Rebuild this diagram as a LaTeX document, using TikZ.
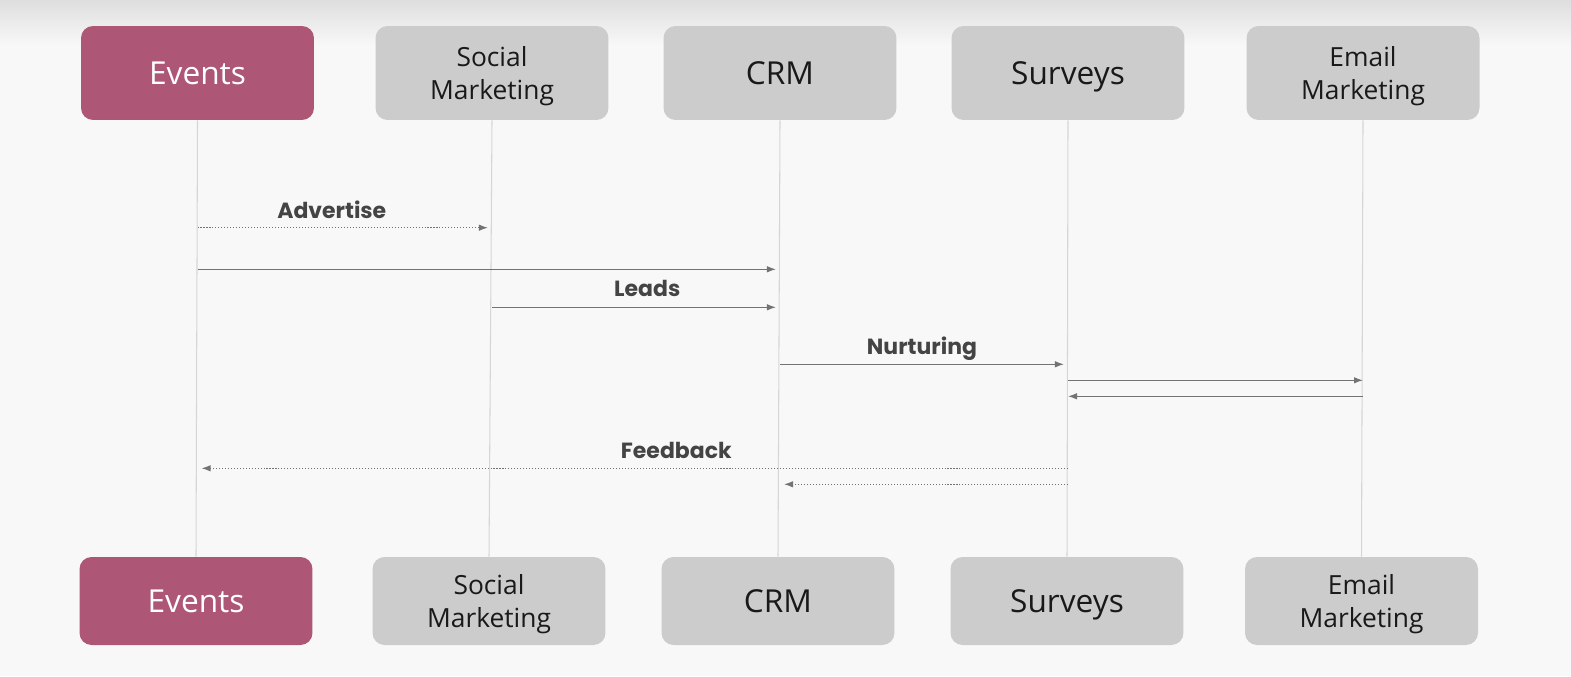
\documentclass[tikz,border=0pt]{standalone}
\usepackage{fontspec}
\setmainfont{Open Sans}
\newfontfamily\lblfont{Poppins}
\usetikzlibrary{arrows.meta, positioning}
\definecolor{cRose}{RGB}{173,86,117}
\definecolor{cBox}{RGB}{204,204,204}
\definecolor{cBack}{RGB}{248,248,248}
\definecolor{cTop}{RGB}{222,222,222}
\definecolor{cLife}{RGB}{214,214,214}
\definecolor{cMsg}{RGB}{115,115,115}
\definecolor{cLabel}{RGB}{68,68,68}
\tikzset{
	actor/.style   ={rectangle, rounded corners=0.24cm, minimum width=4.66cm, minimum height=1.88cm, align=center, text depth=0pt, fill=cBox, text=black!90, font=\fontsize{15}{19}\selectfont},
	actorbig/.style={actor, font=\fontsize{18}{21}\selectfont},
	evbox/.style   ={actorbig, fill=cRose, text=white},
	lower/.style   ={minimum height=1.76cm},
	% sequence styles
	lifeline/.style={cLife, line width=0.6pt},
	msg/.style     ={-{Latex[length=1.8mm, width=1.3mm]}, cMsg, line width=0.65pt},
	reply/.style   ={msg, dash pattern=on 0.6pt off 1.1pt},
	lbl/.style     ={font=\lblfont\bfseries\fontsize{12.5}{14}\selectfont, text=cLabel, above=3pt, inner sep=2pt, text depth=0pt},
}
\begin{document}
\begin{tikzpicture}[x=0.02cm, y=-0.02cm]
	\fill[cBack] (0,0) rectangle (1571,676);
	\shade[top color=cTop, bottom color=cBack] (0,0) rectangle (1571,45);
	\useasboundingbox (0,0) rectangle (1571,676);
	% heads
	\node[evbox]    (ev)  at (197.5,73) {Events};
	\node[actor]    (soc) at (492,73)   {Social\\Marketing};
	\node[actorbig] (crm) at (780,73)   {CRM};
	\node[actorbig] (sur) at (1068,73)  {Surveys};
	\node[actor]    (em)  at (1363,73)  {Email\\Marketing};
	% feet
	\node[evbox, lower]    (evB)  at (196,601)    {Events};
	\node[actor, lower]    (socB) at (489,601)    {Social\\Marketing};
	\node[actorbig, lower] (crmB) at (778,601)    {CRM};
	\node[actorbig, lower] (surB) at (1067,601)   {Surveys};
	\node[actor, lower]    (emB)  at (1361.5,601) {Email\\Marketing};
	\foreach \a in {ev, soc, crm, sur, em}
		\draw[lifeline] (\a.south) -- (\a B.north);
	% messages
	\draw[reply, shorten >=2.3pt] (ev.south |- 0,227.7) -- node[lbl, pos=0.456] {Advertise} (soc.south |- 0,227.7);
	\draw[msg, shorten >=2.3pt] (ev.south |- 0,269.3) -- (crm.south |- 0,269.3);
	\draw[msg, shorten >=2.3pt] (soc.south |- 0,307.3) -- node[lbl, pos=0.539, above=4pt] {Leads} (crm.south |- 0,307.3);
	\draw[msg, shorten >=2.3pt] (crm.south |- 0,364.3) -- node[lbl, pos=0.493] {Nurturing} (sur.south |- 0,364.3);
	\draw[msg] (sur.south |- 0,380.3) -- (em.south |- 0,380.3);
	\draw[msg] (em.south |- 0,396.3) -- (sur.south |- 0,396.3);
	\draw[reply, shorten >=2.3pt] (sur.south |- 0,468.3) -- node[lbl, pos=0.45] {Feedback} (ev.south |- 0,468.3);
	\draw[reply, shorten >=2.3pt] (sur.south |- 0,484.3) -- (crm.south |- 0,484.3);
\end{tikzpicture}
\end{document}
